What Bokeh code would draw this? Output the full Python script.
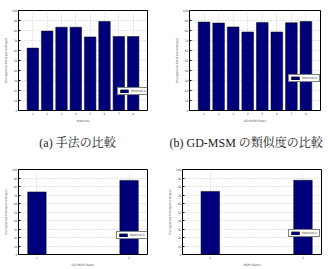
from bokeh.plotting import figure
from bokeh.models import Range1d, FixedTicker, Legend, LegendItem
from bokeh.layouts import column, row
from bokeh.core.properties import value
from bokeh.embed import file_html
from bokeh.resources import INLINE

# ---- data ----
methods = [1, 2, 3, 4, 5, 6, 7, 8]
rate_methods = [62.4, 79.4, 83.3, 83.3, 73.6, 89.0, 74.0, 74.0]
filters = [1, 2, 3, 4, 5, 6, 7, 8]
rate_filters = [88.4, 87.5, 83.6, 78.5, 88.1, 78.5, 87.8, 89.0]
pair = [1, 2]
rate_gdmsm = [73.6, 87.2]
rate_msm = [74.2, 87.3]
y_ticks = [0, 10, 20, 30, 40, 50, 60, 70, 80, 90, 100]
ylabel = "Recognition Rate[percentage]"
xlabels = ["Methods", "GD-MSM filters", "GD-MSM (Bark)", "MSM (Bark)"]
legend_labels = ["Method(1)", "Method(2)", "Method(1)", "Method(1)"]
captions = ["(a) 手法の比較", "(b) GD-MSM の類似度の比較"]

NAVY = "#00007a"


def panel(xs, ys, xr, w, h, borders, xlabel, leg_label, leg_loc, bar_w):
    left, right, top, bottom = borders
    p = figure(width=w, height=h, output_backend="svg", toolbar_location=None,
               x_range=Range1d(*xr), y_range=Range1d(0, 100),
               min_border_left=left, min_border_right=right,
               min_border_top=top, min_border_bottom=bottom)
    r = p.vbar(x=xs, top=ys, width=bar_w, fill_color=NAVY,
               line_color="black", line_width=0.5)
    p.outline_line_color = "black"
    p.outline_line_width = 1
    p.background_fill_color = "white"
    p.border_fill_color = "white"
    for ax in (p.xaxis[0], p.yaxis[0]):
        ax.major_label_text_font_size = "3px"
        ax.major_label_text_color = "#555555"
        ax.axis_label_text_font_size = "3px"
        ax.axis_label_text_font_style = "normal"
        ax.axis_label_text_color = "#555555"
        ax.major_label_standoff = 1
        ax.axis_label_standoff = 1
        ax.major_tick_in = 2
        ax.major_tick_out = 0
        ax.minor_tick_in = 0
        ax.minor_tick_out = 0
        ax.axis_line_color = None
        ax.major_tick_line_color = "black"
        ax.major_label_text_font = "DejaVu Sans"
        ax.axis_label_text_font = "DejaVu Sans"
    p.yaxis[0].ticker = FixedTicker(ticks=y_ticks)
    p.xaxis[0].ticker = FixedTicker(ticks=list(xs))
    p.yaxis[0].axis_label = ylabel
    p.xaxis[0].axis_label = xlabel
    p.xgrid.ticker = FixedTicker(ticks=list(xs))
    p.ygrid.ticker = FixedTicker(ticks=y_ticks)
    for g in (p.xgrid[0], p.ygrid[0]):
        g.grid_line_color = "#aaaaaa"
        g.grid_line_dash = "1 2"
        g.grid_line_width = 0.6
    leg = Legend(items=[LegendItem(label=leg_label, renderers=[r])],
                 location=leg_loc, label_text_font_size="3px",
                 label_text_font="DejaVu Sans",
                 glyph_height=4, glyph_width=10, label_height=4,
                 label_width=0,
                 label_standoff=2, padding=1, margin=0, spacing=0,
                 border_line_color="black", border_line_width=1,
                 background_fill_alpha=1.0)
    p.add_layout(leg)
    return p


pa = panel(methods, rate_methods, (0, 9), 164, 125, (16, 17, 10, 11),
           xlabels[0], legend_labels[0], (99, 15), 0.8)
pb = panel(filters, rate_filters, (0, 9), 165, 125, (25, 9, 10, 11),
           xlabels[1], legend_labels[1], (99, 28), 0.8)
pc = panel(pair, rate_gdmsm, (0.8, 2.2), 164, 119, (16, 17, 19, 9),
           xlabels[2], legend_labels[2], (98, 15), 0.2)
pd = panel(pair, rate_msm, (0.7, 2.2), 165, 119, (17, 8, 19, 9),
           xlabels[3], legend_labels[3], (106, 17), 0.2)

cap = figure(width=329, height=25, output_backend="svg", toolbar_location=None,
             x_range=Range1d(0, 329), y_range=Range1d(0, 25),
             min_border=0)
cap.axis.visible = False
cap.grid.visible = False
cap.outline_line_color = None
cap.text(x=[77, 169], y=[8, 8], text=captions,
         text_font=value("Liberation Serif, Noto Serif CJK JP, Noto Sans CJK JP"),
         text_font_size="12px", text_color="#222222",
         text_align=["center", "left"], text_baseline="middle")

layout = column(row(pa, pb, spacing=0), cap, row(pc, pd, spacing=0), spacing=0)
open("out.html", "w").write(file_html(layout, INLINE))
